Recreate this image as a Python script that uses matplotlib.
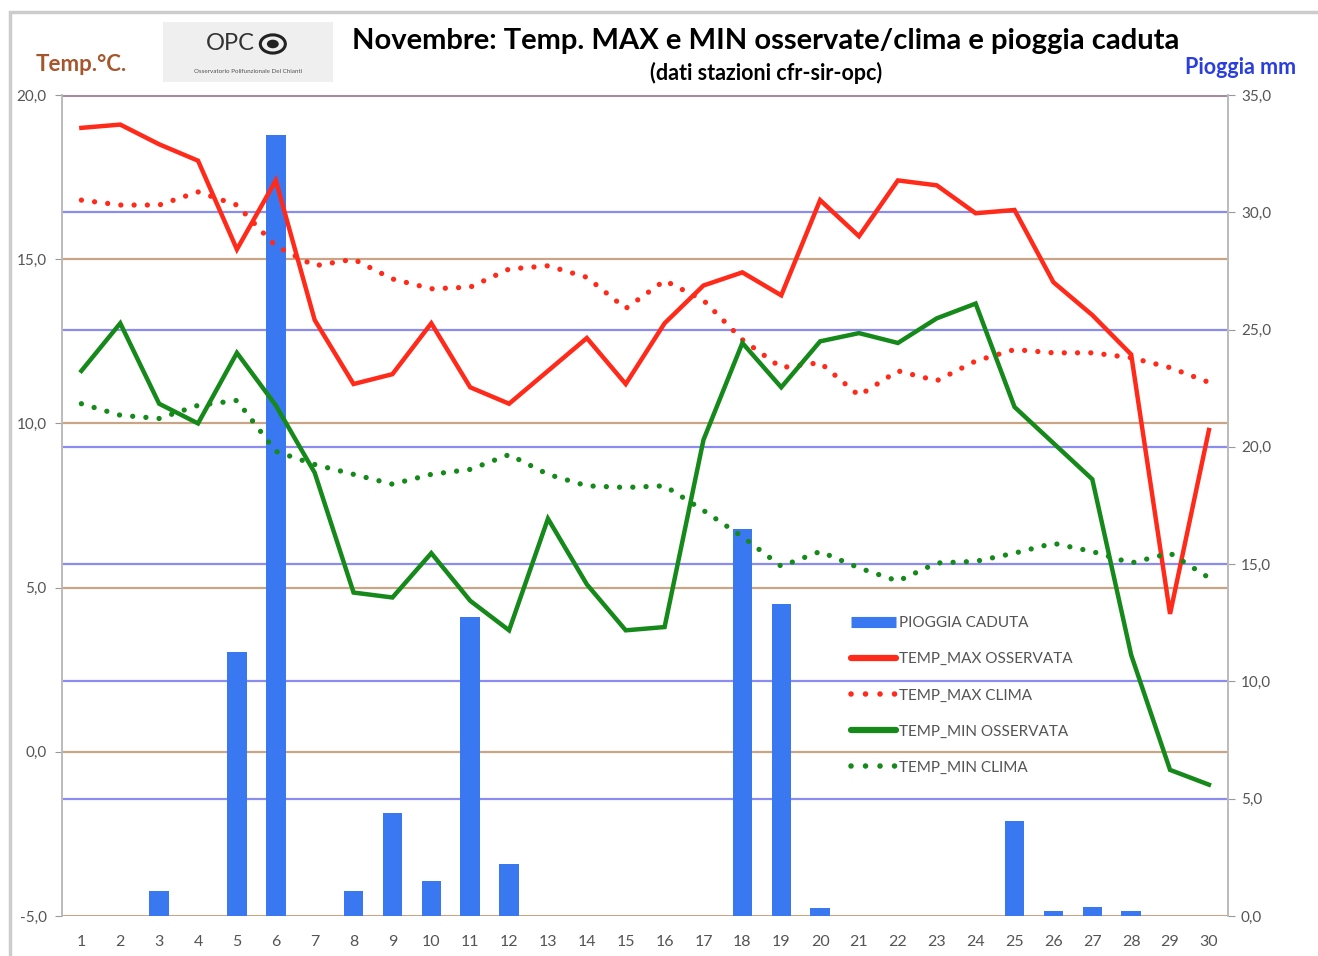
import matplotlib
matplotlib.use("Agg")
import matplotlib.pyplot as plt
from matplotlib.patches import Rectangle, Circle
from matplotlib.lines import Line2D
from matplotlib.ticker import FuncFormatter

plt.rcParams['font.family'] = ['Lato', 'DejaVu Sans']

giorni = list(range(1, 31))

temp_max_oss = [19.0, 19.1, 18.5, 18.0, 15.3, 17.4, 13.15, 11.2, 11.5, 13.05,
                11.1, 10.6, 11.6, 12.6, 11.2, 13.05, 14.2, 14.6, 13.9, 16.8,
                15.7, 17.4, 17.25, 16.4, 16.5, 14.3, 13.3, 12.1, 4.2, 9.8]
temp_max_clima = [16.8, 16.65, 16.65, 17.05, 16.65, 15.4, 14.8, 15.0, 14.4, 14.1,
                  14.15, 14.7, 14.8, 14.45, 13.5, 14.35, 13.75, 12.55, 11.7, 11.85,
                  10.85, 11.6, 11.3, 11.9, 12.25, 12.15, 12.15, 12.0, 11.7, 11.25]
temp_min_oss = [11.6, 13.05, 10.6, 10.0, 12.15, 10.55, 8.5, 4.85, 4.7, 6.05,
                4.6, 3.7, 7.1, 5.1, 3.7, 3.8, 9.5, 12.45, 11.1, 12.5,
                12.75, 12.45, 13.2, 13.65, 10.5, 9.4, 8.3, 2.95, -0.55, -1.0]
temp_min_clima = [10.6, 10.25, 10.15, 10.55, 10.7, 9.15, 8.75, 8.45, 8.15, 8.45,
                  8.6, 9.05, 8.45, 8.1, 8.05, 8.1, 7.35, 6.55, 5.65, 6.1,
                  5.6, 5.2, 5.75, 5.8, 6.05, 6.35, 6.1, 5.75, 6.05, 5.3]
pioggia = [0, 0, 1.05, 0, 11.25, 33.3, 0, 1.05, 4.4, 1.5,
           12.75, 2.2, 0, 0, 0, 0, 0, 16.5, 13.3, 0.35,
           0, 0, 0, 0, 4.05, 0.2, 0.4, 0.2, 0, 0]

ROSSO = '#ff2a1a'
VERDE = '#15891a'
BLU = '#3a78f2'
MARRONE = '#c9a486'
BLU_GRID = '#8c8cf0'
TESTO = '#555555'

fig = plt.figure(figsize=(13.18, 9.56), dpi=100)
ax = fig.add_axes([0.047, 0.0418, 0.885, 0.8588])
ax2 = ax.twinx()
ax.set_zorder(ax2.get_zorder() + 1)
ax.patch.set_visible(False)

# pioggia (asse destro)
ax2.bar(giorni, pioggia, width=0.5, color=BLU, zorder=3)
ax2.set_ylim(0, 35)
ax2.set_yticks([0, 5, 10, 15, 20, 25, 30, 35])
for v in [5, 10, 15, 20, 25, 30]:
    ax2.axhline(v, color=BLU_GRID, lw=1.6, zorder=1)

# temperature (asse sinistro)
ax.plot(giorni, temp_max_oss, color=ROSSO, lw=3.2, solid_joinstyle='miter')
ax.plot(giorni, temp_max_clima, color=ROSSO, lw=3.8, linestyle=(0, (0.01, 2.5)),
        dash_capstyle='round')
ax.plot(giorni, temp_min_oss, color=VERDE, lw=3.2, solid_joinstyle='miter')
ax.plot(giorni, temp_min_clima, color=VERDE, lw=3.8, linestyle=(0, (0.01, 2.5)),
        dash_capstyle='round')
ax.set_ylim(-5, 20)
ax.set_xlim(0.5, 30.5)
ax.set_yticks([-5, 0, 5, 10, 15, 20])
ax.set_xticks(giorni)
for v in [0, 5, 10, 15]:
    ax2.axhline((v + 5) * 35 / 25, color=MARRONE, lw=1.6, zorder=1)
ax2.axhline(35, color='#a58aa0', lw=2.2, zorder=2)
ax2.axhline(0, color=MARRONE, lw=2.2, zorder=2)

fmt = FuncFormatter(lambda v, p: f"{v:.1f}".replace('.', ','))
ax.yaxis.set_major_formatter(fmt)
ax2.yaxis.set_major_formatter(fmt)
for a in (ax, ax2):
    a.tick_params(colors='#999999', labelcolor=TESTO, labelsize=11, length=5)
    for s in a.spines.values():
        s.set_color('#bbbbbb')
        s.set_linewidth(1.2)
    a.spines['top'].set_visible(False)
    a.spines['bottom'].set_visible(False)
ax.tick_params(axis='x', length=0, pad=14, labelsize=11.5)
ax2.tick_params(axis='y', pad=4)
ax.tick_params(axis='y', pad=6)

# legenda
handles = [
    Line2D([0], [0], color=BLU, lw=8, solid_capstyle='butt'),
    Line2D([0], [0], color=ROSSO, lw=4.5, solid_capstyle='round'),
    Line2D([0], [0], color=ROSSO, lw=4, linestyle=(0, (0.01, 2.6)), dash_capstyle='round'),
    Line2D([0], [0], color=VERDE, lw=4.5, solid_capstyle='round'),
    Line2D([0], [0], color=VERDE, lw=4, linestyle=(0, (0.01, 2.6)), dash_capstyle='round'),
]
labels = ['PIOGGIA CADUTA', 'TEMP_MAX OSSERVATA', 'TEMP_MAX CLIMA',
          'TEMP_MIN OSSERVATA', 'TEMP_MIN CLIMA']
leg = ax.legend(handles, labels, loc='upper left', bbox_to_anchor=(0.665, 0.382),
                frameon=False, fontsize=11, handlelength=2.9, handletextpad=0.2,
                labelspacing=1.45, labelcolor=TESTO)

# titoli e etichette assi
fig.text(0.581, 0.957, 'Novembre: Temp. MAX e MIN osservate/clima e pioggia caduta',
         ha='center', va='center', fontsize=21, fontweight='bold', color='black')
fig.text(0.581, 0.924, '(dati stazioni cfr-sir-opc)', ha='center', va='center',
         fontsize=15.5, fontweight='bold', color='black')
fig.text(0.062, 0.933, 'Temp.°C.', ha='center', va='center', fontsize=16,
         fontweight='bold', color='#a5562d')
fig.text(0.941, 0.929, 'Pioggia mm', ha='center', va='center', fontsize=15.5,
         fontweight='bold', color='#2a3ee0')

# logo OPC
fig.patches.append(Rectangle((0.124, 0.914), 0.129, 0.063, transform=fig.transFigure,
                             facecolor='#efefef', edgecolor='none'))
fig.text(0.175, 0.954, 'OPC', ha='center', va='center', fontsize=17, color='#333333')
fig.patches.append(Circle((0.207, 0.954), 0.0095, transform=fig.transFigure,
                          facecolor='none', edgecolor='#222222', lw=2.2))
fig.patches.append(Circle((0.207, 0.954), 0.0045, transform=fig.transFigure,
                          facecolor='#222222', edgecolor='none'))
fig.text(0.188, 0.925, 'Osservatorio Polifunzionale Del Chianti', ha='center',
         va='center', fontsize=4.5, color='#555555')

# cornice
fig.patches.append(Rectangle((0.0076, -0.01), 1.0, 0.997, transform=fig.transFigure,
                             facecolor='none', edgecolor='#cccccc', lw=2.5))

fig.savefig('out.png', dpi=100)
